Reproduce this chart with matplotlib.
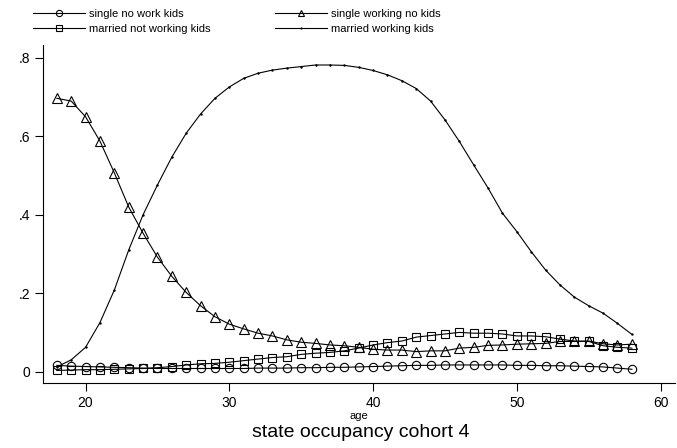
import matplotlib
matplotlib.use("Agg")
import matplotlib.pyplot as plt
import numpy as np

plt.rcParams['font.family'] = ['Liberation Sans', 'DejaVu Sans']

ages = list(range(18, 59))

single_no_work_kids = [0.016, 0.014, 0.013, 0.012, 0.011, 0.010, 0.009, 0.008, 0.008, 0.008,
                       0.008, 0.008, 0.008, 0.008, 0.009, 0.009, 0.009, 0.010, 0.010, 0.011,
                       0.011, 0.012, 0.013, 0.014, 0.015, 0.016, 0.016, 0.017, 0.017, 0.017,
                       0.017, 0.017, 0.016, 0.016, 0.015, 0.015, 0.014, 0.013, 0.012, 0.009,
                       0.006]

single_working_no_kids = [0.697, 0.690, 0.650, 0.588, 0.507, 0.420, 0.353, 0.292, 0.243, 0.202,
                          0.168, 0.140, 0.121, 0.109, 0.098, 0.091, 0.081, 0.075, 0.072, 0.068,
                          0.066, 0.062, 0.057, 0.055, 0.055, 0.051, 0.053, 0.053, 0.060, 0.062,
                          0.067, 0.068, 0.070, 0.071, 0.072, 0.077, 0.077, 0.078, 0.071, 0.068,
                          0.070]

married_not_working_kids = [0.003, 0.004, 0.005, 0.005, 0.006, 0.007, 0.008, 0.010, 0.013, 0.017,
                            0.020, 0.021, 0.024, 0.028, 0.032, 0.036, 0.038, 0.044, 0.047, 0.049,
                            0.053, 0.060, 0.068, 0.074, 0.078, 0.088, 0.092, 0.096, 0.100, 0.098,
                            0.098, 0.096, 0.091, 0.091, 0.089, 0.083, 0.078, 0.077, 0.066, 0.062,
                            0.060]

married_working_kids = [0.012, 0.030, 0.062, 0.125, 0.208, 0.310, 0.400, 0.476, 0.547, 0.608,
                        0.657, 0.697, 0.726, 0.748, 0.761, 0.769, 0.774, 0.778, 0.782, 0.782,
                        0.781, 0.776, 0.768, 0.757, 0.742, 0.722, 0.690, 0.642, 0.587, 0.527,
                        0.468, 0.404, 0.357, 0.306, 0.259, 0.221, 0.190, 0.168, 0.149, 0.123,
                        0.095]

labels = ["single no work kids", "single working no kids",
          "married not working kids", "married working kids"]
xticks = [20, 30, 40, 50, 60]
yticks = [0, 0.2, 0.4, 0.6, 0.8]
yticklabels = ["0", ".2", ".4", ".6", ".8"]

fig = plt.figure(figsize=(6.77, 4.48), dpi=100)
ax = fig.add_axes([43/677, 1-383/448, (675-43)/677, (383-45)/448])

lw = 0.8
kw = dict(color='black', linewidth=lw, markerfacecolor='none', markeredgecolor='black',
          markeredgewidth=0.8)
h1, = ax.plot(ages, single_no_work_kids, marker='o', markersize=6, **kw)
h2, = ax.plot(ages, single_working_no_kids, marker='^', markersize=6.5, **kw)
h3, = ax.plot(ages, married_not_working_kids, marker='s', markersize=6, **kw)
h4, = ax.plot(ages, married_working_kids, color='black', linewidth=lw, marker='.',
              markersize=1.5)

ax.set_xlim(17.04, 61.0)
ax.set_ylim(-0.029, 0.833)
ax.set_xticks(xticks)
ax.set_yticks(yticks)
ax.set_yticklabels(yticklabels)
for s in ['top', 'right']:
    ax.spines[s].set_visible(False)
for s in ['left', 'bottom']:
    ax.spines[s].set_linewidth(0.8)
ax.tick_params(direction='out', length=6, width=0.8, labelsize=10, pad=3)
ax.set_xlabel("age", fontsize=8, labelpad=1)
fig.text(361/677, 1-432/448, "state occupancy cohort 4", ha='center', va='center',
         fontsize=14)

# column-wise fill: col1 = h1, h3 ; col2 = h2, h4
fig.legend([h1, h3, h2, h4], [labels[0], labels[2], labels[1], labels[3]],
           ncol=2, frameon=False, loc='upper left',
           bbox_to_anchor=(33/677, 1-9/448), fontsize=8, handlelength=4.7,
           handletextpad=0.3, columnspacing=5.85, labelspacing=0.45,
           borderaxespad=0, borderpad=0, markerscale=0.75)

fig.savefig("out.png", dpi=100)
